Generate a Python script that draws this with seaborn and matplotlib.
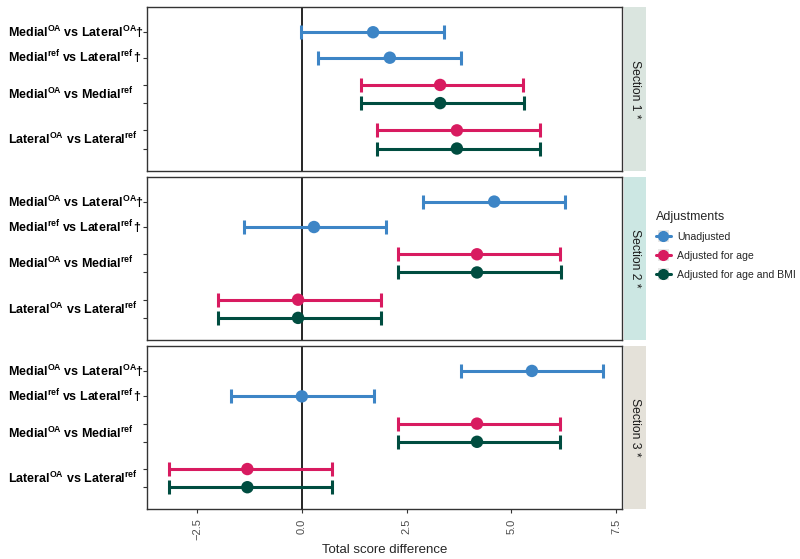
import numpy as np
import pandas as pd
import matplotlib
matplotlib.use("Agg")
import matplotlib.pyplot as plt
import seaborn as sns
from matplotlib.lines import Line2D
from matplotlib.patches import Rectangle
from matplotlib.legend_handler import HandlerLine2D

# -----------------------------
# DATA
# -----------------------------
sections = ["Section 1", "Section 2", "Section 3"]
adjustments = ["Unadjusted", "Adjusted for age", "Adjusted for age and BMI"]

# six rows per section, top to bottom
row_comparison = ["MOA_LOA", "Mref_Lref", "MOA_Mref", "MOA_Mref", "LOA_Lref", "LOA_Lref"]
row_adjustment = ["Unadjusted", "Unadjusted",
                  "Adjusted for age", "Adjusted for age and BMI",
                  "Adjusted for age", "Adjusted for age and BMI"]

estimate_s1 = [1.70, 2.10, 3.30, 3.30, 3.70, 3.70]
lower_s1 = [-0.02, 0.38, 1.40, 1.40, 1.80, 1.80]
upper_s1 = [3.40, 3.80, 5.28, 5.30, 5.68, 5.68]

estimate_s2 = [4.59, 0.29, 4.18, 4.18, -0.09, -0.09]
lower_s2 = [2.89, -1.38, 2.29, 2.29, -1.99, -1.99]
upper_s2 = [6.27, 2.00, 6.17, 6.18, 1.90, 1.90]

estimate_s3 = [5.49, 0.00, 4.18, 4.18, -1.30, -1.30]
lower_s3 = [3.79, -1.69, 2.29, 2.29, -3.17, -3.17]
upper_s3 = [7.19, 1.72, 6.17, 6.17, 0.71, 0.71]

comparison_labels = {
    "MOA_LOA": r"$\mathbf{Medial}^{\mathbf{OA}}\ \mathbf{vs}\ \mathbf{Lateral}^{\mathbf{OA}}\mathbf{†}$",
    "Mref_Lref": r"$\mathbf{Medial}^{\mathbf{ref}}\ \mathbf{vs}\ \mathbf{Lateral}^{\mathbf{ref}}\,\mathbf{†}$",
    "MOA_Mref": r"$\mathbf{Medial}^{\mathbf{OA}}\ \mathbf{vs}\ \mathbf{Medial}^{\mathbf{ref}}$",
    "LOA_Lref": r"$\mathbf{Lateral}^{\mathbf{OA}}\ \mathbf{vs}\ \mathbf{Lateral}^{\mathbf{ref}}$",
}

palette = {"Unadjusted": "#3D85C6",
           "Adjusted for age": "#D81B60",
           "Adjusted for age and BMI": "#004D40"}
strip_colors = ["#DAE5DF", "#CCE7E3", "#E4E1D9"]

# -----------------------------
# LONG TABLE
# -----------------------------
frames = []
for sec, est, lo, hi in zip(sections,
                            [estimate_s1, estimate_s2, estimate_s3],
                            [lower_s1, lower_s2, lower_s3],
                            [upper_s1, upper_s2, upper_s3]):
    frames.append(pd.DataFrame({"section": sec, "comparison": row_comparison,
                                "adjustment": row_adjustment,
                                "estimate": est, "lower": lo, "upper": hi}))
df = pd.concat(frames, ignore_index=True)

# vertical layout: comparison base position + small offset for the age/BMI pair
base_pos = {"MOA_LOA": 3.56, "Mref_Lref": 3.0, "MOA_Mref": 2.0, "LOA_Lref": 1.0}
adj_offset = {"Unadjusted": 0.0, "Adjusted for age": 0.4, "Adjusted for age and BMI": 0.0}
df["ypos"] = df["comparison"].map(base_pos) + df["adjustment"].map(adj_offset)

# -----------------------------
# PLOT
# -----------------------------
sns.set_theme(style="white")
plt.rcParams["font.family"] = ["Liberation Sans", "DejaVu Sans"]
plt.rcParams["mathtext.fontset"] = "custom"
plt.rcParams["mathtext.rm"] = "Liberation Sans"
plt.rcParams["mathtext.bf"] = "Liberation Sans:bold"
plt.rcParams["mathtext.it"] = "Liberation Sans:italic"

fig, axes = plt.subplots(3, 1, figsize=(8, 5.59), dpi=100, sharex=True)
fig.subplots_adjust(left=0.184, right=0.7775, top=0.987, bottom=0.089, hspace=0.037)

for i, (ax, sec) in enumerate(zip(axes, sections)):
    d = df[df["section"] == sec]
    ax.axvline(0, color="black", lw=1.2, zorder=1)
    for adj in adjustments:
        g = d[d["adjustment"] == adj]
        ax.errorbar(g["estimate"], g["ypos"],
                    xerr=[g["estimate"] - g["lower"], g["upper"] - g["estimate"]],
                    fmt="none", ecolor=palette[adj], elinewidth=2.2,
                    capsize=5, capthick=2.2, zorder=2)
    sns.scatterplot(data=d, x="estimate", y="ypos", hue="adjustment",
                    palette=palette, s=80, edgecolor="none", legend=False,
                    ax=ax, zorder=3)

    ax.set_xlim(-3.69, 7.64)
    ax.set_ylim(0.515, 4.11)
    ax.set_yticks(sorted(d["ypos"].unique()))
    ax.set_yticklabels([])
    ax.set_ylabel("")
    ax.set_xlabel("")
    ax.tick_params(axis="y", left=True, length=3, width=0.8, color="#333333")
    for sp in ax.spines.values():
        sp.set_color("#333333")
        sp.set_linewidth(1.0)

    # comparison labels on the left
    for comp, y in base_pos.items():
        yl = y + 0.2 if comp in ("MOA_Mref", "LOA_Lref") else y
        ax.text(-0.293, yl, comparison_labels[comp], transform=ax.get_yaxis_transform(),
                ha="left", va="center", fontsize=9.0, color="black")

    # facet strip on the right
    ax.add_patch(Rectangle((1.004, 0), 0.047, 1, transform=ax.transAxes,
                           facecolor=strip_colors[i], edgecolor="none", clip_on=False))
    ax.text(1.0275, 0.5, sec + " *", transform=ax.transAxes, rotation=-90,
            ha="center", va="center", fontsize=8.7, color="#1a1a1a")

axes[-1].set_xticks([-2.5, 0.0, 2.5, 5.0, 7.5])
axes[-1].set_xticklabels(["\u22122.5", "0.0", "2.5", "5.0", "7.5"], rotation=90,
                         fontsize=8, color="#4d4d4d")
axes[-1].tick_params(axis="x", bottom=True, length=3, width=0.8, color="#333333")
axes[-1].set_xlabel("Total score difference", fontsize=9.5, labelpad=3)


# legend keys with a grey background like ggplot
class KeyHandler(HandlerLine2D):
    def create_artists(self, legend, orig_handle, xdescent, ydescent,
                       width, height, fontsize, trans):
        bg = Rectangle((-xdescent + width / 2 - height * 0.75, -ydescent - height * 0.25),
                       height * 1.5, height * 1.5, facecolor="#E8E8E8",
                       edgecolor="none", transform=trans)
        arts = super().create_artists(legend, orig_handle, xdescent, ydescent,
                                      width, height, fontsize, trans)
        return [bg] + arts


handles = [Line2D([0], [0], color=palette[a], lw=2.2, marker="o", markersize=7)
           for a in adjustments]
leg = fig.legend(handles, adjustments, title="Adjustments", loc="upper left",
                 bbox_to_anchor=(0.808, 0.64), frameon=False, fontsize=7.6,
                 title_fontsize=9, handlelength=1.4, handletextpad=0.6,
                 labelspacing=0.85, handler_map={Line2D: KeyHandler()})
leg._legend_box.align = "left"

fig.savefig("out.png", dpi=100)
